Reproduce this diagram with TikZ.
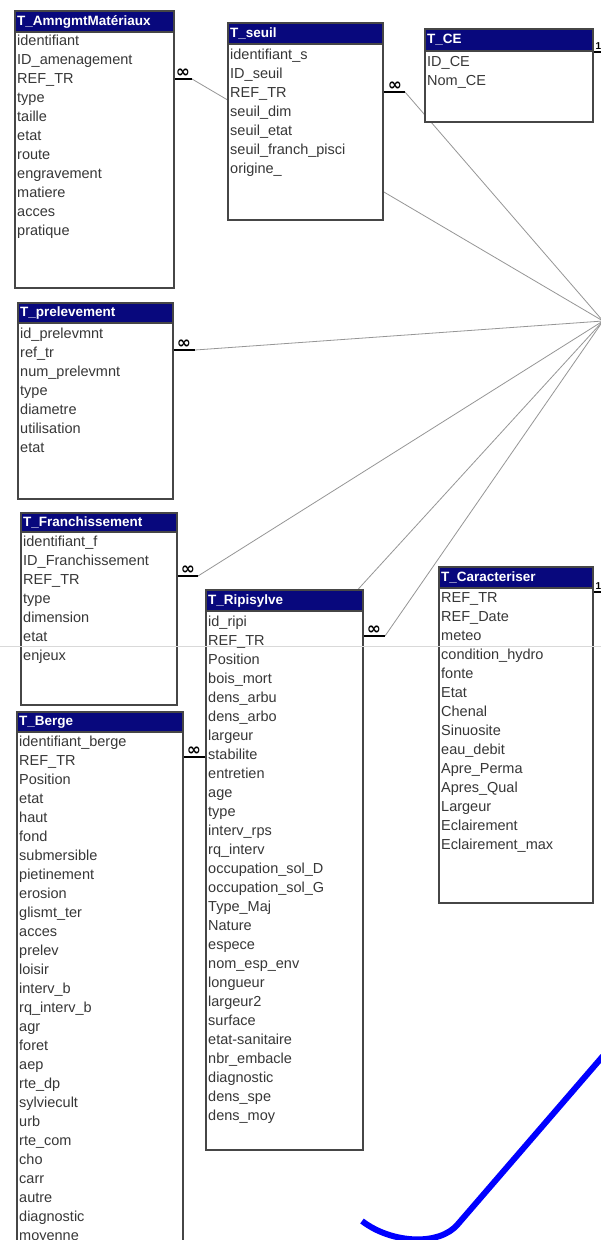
\documentclass[tikz,border=0pt]{standalone}
\usepackage{fontspec}
\setmainfont{Liberation Sans}
\newfontfamily\symfont{DejaVu Sans}
\usetikzlibrary{fit}
\definecolor{titlenavy}{RGB}{8,8,125}
\definecolor{fieldtxt}{RGB}{55,55,55}
\definecolor{boxline}{RGB}{70,70,70}
\definecolor{relgray}{RGB}{150,150,150}
\tikzset{
  tabbox/.style={draw=boxline, line width=1.6pt, fill=white, inner sep=0pt},
  titlebar/.style={fill=titlenavy, draw=boxline, line width=1.2pt, inner sep=0pt},
  titletxt/.style={anchor=west, text=white, inner sep=0pt, text height=10pt, text depth=3pt, font=\fontsize{13.5}{14}\selectfont\bfseries},
  fieldtxt/.style={anchor=west, text=fieldtxt, inner sep=0pt, text height=10pt, text depth=3pt, font=\fontsize{14.5}{15}\selectfont},
  relline/.style={draw=relgray, line width=0.8pt},
  stub/.style={draw=black, line width=1.4pt},
  infmark/.style={inner sep=0pt, font=\fontsize{17}{17}\selectfont\symfont\bfseries},
  onemark/.style={inner sep=0pt, font=\fontsize{10}{10}\selectfont\bfseries},
  pagebreak/.style={draw=gray!30, line width=0.8pt},
  bluecurve/.style={draw=blue, line width=6pt}
}
% #1 id, #2 left, #3 top, #4 right, #5 title bottom, #6 bottom, #7 title, #8 first row y, #9 fields
\newcommand\dbtab[9]{%
  \coordinate (#1-nw) at (#2,#3);
  \coordinate (#1-se) at (#4,#6);
  \coordinate (#1-tse) at (#4,#5);
  \node[tabbox, fit=(#1-nw)(#1-se)] (#1) {};
  \node[titlebar, fit=(#1-nw)(#1-tse)] (#1-title) {};
  \node[titletxt] (#1-name) at ({#2+2},{(#3+#5)/2}) {#7};
  \foreach \f [count=\i from 0] in {#9} {
    \node[fieldtxt] (#1-f\i) at ({#2+2},{#8+19*\i}) {\f};
  }%
}
\begin{document}
\begin{tikzpicture}[x=1pt,y=-1pt]
\useasboundingbox (0,0) rectangle (601,1240);
\clip (0,0) rectangle (601,1240);
\fill[white] (0,0) rectangle (601,1240);

% hub (table off the right edge)
\coordinate (hub) at (603,321);

% connector start points
\coordinate (a1) at (192,79);
\coordinate (a2) at (405,92);
\coordinate (a3) at (195,350);
\coordinate (a4) at (198,576);
\coordinate (a5) at (385,636);
\coordinate (a6) at (205,757);

\draw[relline] (a1) -- (hub);
\draw[relline] (a2) -- (hub);
\draw[relline] (a3) -- (hub);
\draw[relline] (a4) -- (hub);
\draw[relline] (a5) -- (hub);
\draw[relline] (a6) -- (hub);

% tables
\dbtab{amng}{15}{11}{174}{32}{288}{T\_AmngmtMatériaux}{42}{identifiant,ID\_amenagement,REF\_TR,type,taille,etat,route,engravement,matiere,acces,pratique}
\dbtab{seuil}{228}{23}{383}{44}{220}{T\_seuil}{56}{identifiant\_s,ID\_seuil,REF\_TR,seuil\_dim,seuil\_etat,seuil\_franch\_pisci,origine\_}
\dbtab{ce}{425}{29}{593}{51}{122}{T\_CE}{63}{ID\_CE,Nom\_CE}
\dbtab{prel}{18}{303}{173}{323}{499}{T\_prelevement}{335}{id\_prelevmnt,ref\_tr,num\_prelevmnt,type,diametre,utilisation,etat}
\dbtab{fran}{21}{513}{177}{532}{705}{T\_Franchissement}{543}{identifiant\_f,ID\_Franchissement,REF\_TR,type,dimension,etat,enjeux}
\dbtab{ripi}{206}{590}{363}{611}{1150}{T\_Ripisylve}{623}{id\_ripi,REF\_TR,Position,bois\_mort,dens\_arbu,dens\_arbo,largeur,stabilite,entretien,age,type,interv\_rps,rq\_interv,occupation\_sol\_D,occupation\_sol\_G,Type\_Maj,Nature,espece,nom\_esp\_env,longueur,largeur2,surface,etat-sanitaire,nbr\_embacle,diagnostic,dens\_spe,dens\_moy}
\dbtab{cara}{439}{567}{593}{588}{903}{T\_Caracteriser}{599}{REF\_TR,REF\_Date,meteo,condition\_hydro,fonte,Etat,Chenal,Sinuosite,eau\_debit,Apre\_Perma,Apres\_Qual,Largeur,Eclairement,Eclairement\_max}
\dbtab{berge}{17}{712}{183}{732}{1272}{T\_Berge}{743}{identifiant\_berge,REF\_TR,Position,etat,haut,fond,submersible,pietinement,erosion,glismt\_ter,acces,prelev,loisir,interv\_b,rq\_interv\_b,agr,foret,aep,rte\_dp,sylviecult,urb,rte\_com,cho,carr,autre,diagnostic,moyenne}

% many-side markers
\draw[stub] (amng.east |- a1) -- (a1);
\node[infmark] (m1) at (183,73) {∞};
\draw[stub] (seuil.east |- a2) -- (a2);
\node[infmark] (m2) at (395,86) {∞};
\draw[stub] (prel.east |- a3) -- (a3);
\node[infmark] (m3) at (184,344) {∞};
\draw[stub] (fran.east |- a4) -- (a4);
\node[infmark] (m4) at (188,570) {∞};
\draw[stub] (ripi.east |- a5) -- (a5);
\node[infmark] (m5) at (374,630) {∞};
\draw[stub] (berge.east |- a6) -- (a6);
\node[infmark] (m6) at (194,751) {∞};

% one-side markers (cut at the right edge)
\coordinate (o1) at (603,52);
\draw[stub] (ce.east |- o1) -- (o1);
\node[onemark] (n1) at (598.5,46) {1};
\coordinate (o2) at (603,592);
\draw[stub] (cara.east |- o2) -- (o2);
\node[onemark] (n2) at (598.5,586) {1};

% page break line
\draw[pagebreak] (0,646) -- (601,646);

% blue stroke
\draw[bluecurve] (603,1056) -- (458,1224) .. controls (440,1246) and (392,1244) .. (362,1221);
\end{tikzpicture}
\end{document}
